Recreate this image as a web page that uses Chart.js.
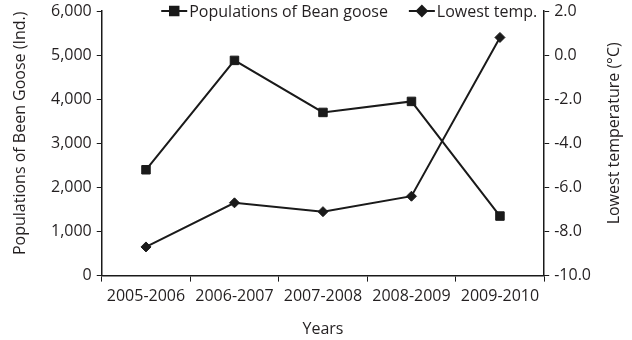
<!DOCTYPE html>
<html>
<head>
<meta charset="utf-8">
<script src="https://cdn.jsdelivr.net/npm/chart.js@4"></script>
<style>
html, body { margin: 0; padding: 0; background: #fff; }
#wrap { width: 632px; height: 340px; }
</style>
</head>
<body>
<div id="wrap"><canvas id="chart"></canvas></div>
<script>
var years = ["2005-2006", "2006-2007", "2007-2008", "2008-2009", "2009-2010"];
var beanGoose = [2400, 4880, 3700, 3950, 1350];
var lowestTemp = [-8.7, -6.7, -7.1, -6.4, 0.8];
var gooseTicks = [0, 1000, 2000, 3000, 4000, 5000, 6000];
var tempTicks = [-10, -8, -6, -4, -2, 0, 2];

var ink = "#1a1a1a";
var textInk = "#231f20";
var fontFamily = "'Open Sans', sans-serif";
var fontSize = 16;
var leftTitle = "Populations of Been Goose (Ind.)";
var rightTitle = "Lowest temperature (\u00B0C)";

// legend drawn by hand: short line with the marker in the middle, text right after.
// both y titles drawn here too so they read bottom to top and sit where the original has them
var extras = {
    id: "extras",
    afterDraw: function(chart) {
        var ctx = chart.ctx;
        var area = chart.chartArea;
        var sets = chart.data.datasets;
        var markW = 26, gap = 2, itemGap = 21;
        ctx.save();
        ctx.font = fontSize + "px " + fontFamily;
        var total = 0;
        for (var i = 0; i < sets.length; i++) {
            total += markW + gap + ctx.measureText(sets[i].label).width;
            if (i > 0) total += itemGap;
        }
        var x = area.right - 7 - total;
        var y = area.top;
        for (var j = 0; j < sets.length; j++) {
            var ds = sets[j];
            ctx.strokeStyle = ink;
            ctx.lineWidth = 2;
            ctx.beginPath();
            ctx.moveTo(x, y);
            ctx.lineTo(x + markW, y);
            ctx.stroke();
            ctx.fillStyle = ink;
            Chart.helpers.drawPoint(ctx, {
                pointStyle: ds.pointStyle,
                rotation: 0,
                radius: ds.pointRadius,
                borderWidth: 1
            }, x + markW / 2, y);
            ctx.fillStyle = textInk;
            ctx.textBaseline = "middle";
            ctx.textAlign = "left";
            ctx.fillText(ds.label, x + markW + gap, y + 1);
            x += markW + gap + ctx.measureText(ds.label).width + itemGap;
        }

        var midY = (area.top + area.bottom) / 2 - 10;
        ctx.textAlign = "center";
        ctx.save();
        ctx.translate(20, midY);
        ctx.rotate(-Math.PI / 2);
        ctx.fillText(leftTitle, 0, 0);
        ctx.restore();

        ctx.translate(chart.width - 18, midY);
        ctx.rotate(-Math.PI / 2);
        ctx.fillText(rightTitle, 0, 0);
        ctx.restore();
    }
};

var ctx = document.getElementById("chart").getContext("2d");

new Chart(ctx, {
    type: "line",
    data: {
        labels: years,
        datasets: [{
            label: "Populations of Bean goose",
            data: beanGoose,
            yAxisID: "y",
            borderColor: ink,
            backgroundColor: ink,
            borderWidth: 2,
            pointStyle: "rect",
            pointRadius: 6,
            pointBorderWidth: 1,
            tension: 0
        }, {
            label: "Lowest temp.",
            data: lowestTemp,
            yAxisID: "y1",
            borderColor: ink,
            backgroundColor: ink,
            borderWidth: 2,
            pointStyle: "rectRot",
            pointRadius: 5,
            pointBorderWidth: 1,
            tension: 0
        }]
    },
    options: {
        responsive: true,
        maintainAspectRatio: false,
        animation: false,
        layout: { padding: { top: 0, left: 46, right: 36, bottom: 1 } },
        plugins: {
            legend: { display: false },
            tooltip: { enabled: false }
        },
        scales: {
            x: {
                offset: true,
                grid: { drawOnChartArea: false, drawTicks: true, tickLength: 6, color: ink, offset: true },
                border: { display: true, color: ink, width: 1.5 },
                ticks: { color: textInk, font: { family: fontFamily, size: fontSize }, padding: 5, maxRotation: 0 },
                title: { display: true, text: "Years", color: textInk, font: { family: fontFamily, size: fontSize }, padding: { top: 9, bottom: 0 } }
            },
            y: {
                position: "left",
                min: 0,
                max: 6000,
                afterBuildTicks: function(axis) {
                    axis.ticks = gooseTicks.map(function(v) { return { value: v }; });
                },
                grid: { drawOnChartArea: false, drawTicks: true, tickLength: 5, color: ink },
                border: { display: true, color: ink, width: 1.5 },
                ticks: {
                    color: textInk,
                    font: { family: fontFamily, size: fontSize, lineHeight: 0.75 },
                    padding: 5,
                    callback: function(v) { return v.toLocaleString("en-US"); }
                },
                title: { display: false }
            },
            y1: {
                position: "right",
                min: -10,
                max: 2,
                afterBuildTicks: function(axis) {
                    axis.ticks = tempTicks.map(function(v) { return { value: v }; });
                },
                grid: { drawOnChartArea: false, drawTicks: true, tickLength: 5, color: ink },
                border: { display: true, color: ink, width: 1.5 },
                ticks: {
                    color: textInk,
                    font: { family: fontFamily, size: fontSize, lineHeight: 0.75 },
                    padding: 5,
                    callback: function(v) { return Number(v).toFixed(1); }
                },
                title: { display: false }
            }
        }
    },
    plugins: [extras]
});
</script>
</body>
</html>
